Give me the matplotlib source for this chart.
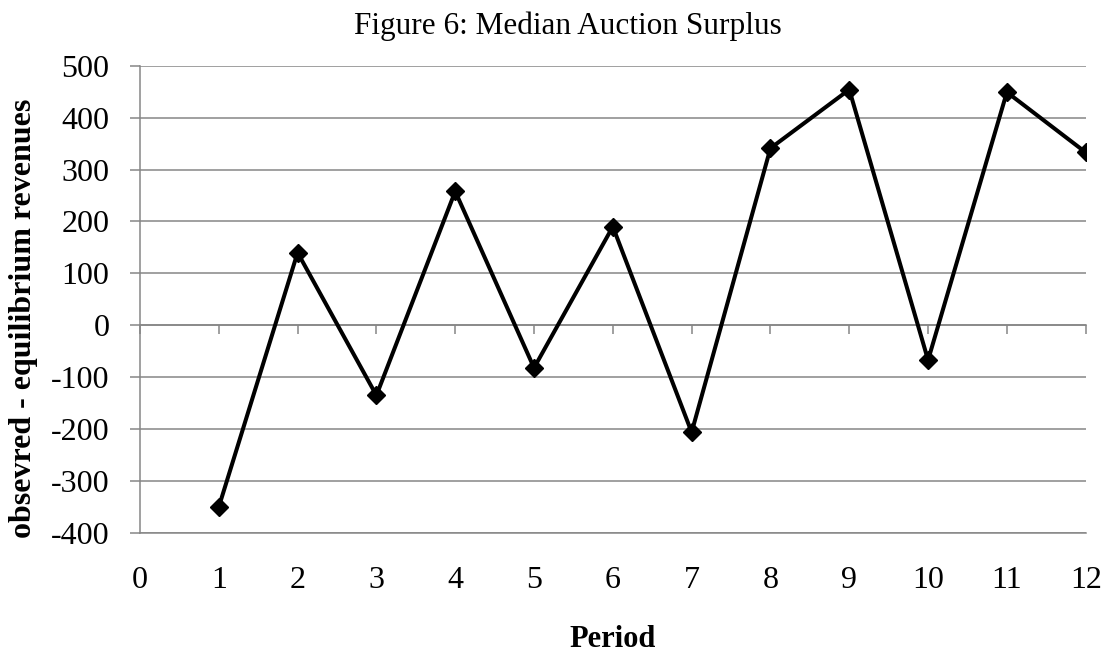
import matplotlib
matplotlib.use("Agg")
import matplotlib.pyplot as plt

# --- data ---
periods = [1, 2, 3, 4, 5, 6, 7, 8, 9, 10, 11, 12]
surplus = [-350, 140, -135, 258, -82, 190, -206, 341, 454, -67, 449, 333]
x_ticks = list(range(0, 13))
y_ticks = list(range(-400, 501, 100))

grid_col = "#868686"
plt.rcParams["font.family"] = ["Liberation Serif", "DejaVu Serif"]
plt.rcParams["axes.unicode_minus"] = False

fig = plt.figure(figsize=(11.1, 6.55), dpi=100)
ax = fig.add_axes([0.1261, 0.1863, 0.852, 0.7134])

# series
ax.plot(periods, surplus, color="black", linewidth=2.9,
        marker="D", markersize=9.5, markerfacecolor="black",
        markeredgecolor="black", zorder=3)

ax.set_xlim(0, 12)
ax.set_ylim(-400, 500)
ax.set_xticks(x_ticks)
ax.set_yticks(y_ticks)

# horizontal gridlines like Excel
ax.grid(axis="y", color=grid_col, linewidth=1.1)
ax.set_axisbelow(True)

for s in ["top", "right"]:
    ax.spines[s].set_visible(False)
ax.spines["left"].set_color(grid_col)
ax.spines["left"].set_linewidth(1.1)
ax.spines["bottom"].set_color(grid_col)
ax.spines["bottom"].set_linewidth(1.1)

ax.tick_params(axis="y", direction="out", length=7, width=1.1,
               color=grid_col, labelsize=23, pad=15)
ax.tick_params(axis="x", length=0, labelsize=23, pad=24)

# category axis crossing at zero, with its own tick marks
sec = ax.secondary_xaxis(0, transform=ax.transData)
sec.set_xticks(x_ticks)
sec.tick_params(direction="out", length=6.5, width=1.1, color=grid_col,
                labelbottom=False)
sec.spines["bottom"].set_color(grid_col)
sec.spines["bottom"].set_linewidth(1.1)

ax.set_xlabel("Period", fontsize=22, fontweight="bold")
ax.xaxis.set_label_coords(0.5, -0.198)
ax.set_ylabel("obsevred - equilibrium revenues", fontsize=23, fontweight="bold")
ax.yaxis.set_label_coords(-0.108, 0.46)

fig.text(0.512, 0.96, "Figure 6: Median Auction Surplus",
         fontsize=22.5, ha="center", va="center")

fig.savefig("out.png", dpi=100)
